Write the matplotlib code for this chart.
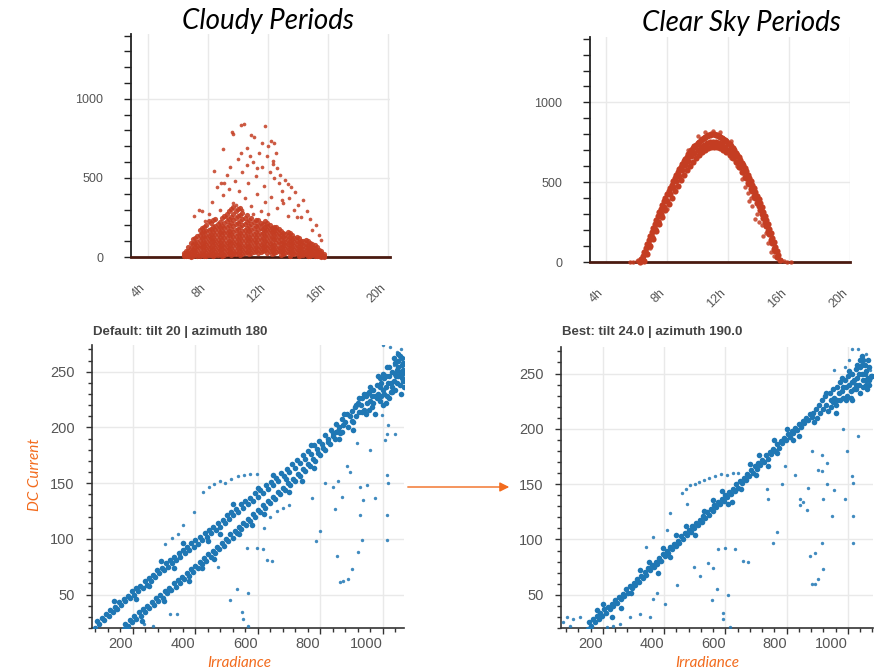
import matplotlib
matplotlib.use("Agg")
import matplotlib.pyplot as plt
from matplotlib.ticker import MultipleLocator
from matplotlib.patches import FancyArrowPatch

W, H = 884, 671
RED = "#c43d22"
BLUE = "#1f77b4"
ORANGE = "#f26b1d"
GRID = "#e9e9e9"
TICK_TXT = "#555555"
plt.rcParams["font.family"] = ["Liberation Sans", "DejaVu Sans"]

# ── Top row: AC power by hour of day ──────────────────────────────────────────
HOUR_TICKS = [4, 8, 12, 16, 20]
HOUR_LABELS = ["4h", "8h", "12h", "16h", "20h"]

# cloudy periods: dense low part, two sets of columns (hour, values)
CLOUDY_HOURS_A = [6.4, 6.7, 7.0, 7.3, 7.6, 7.9, 8.2, 8.5, 8.8, 9.1, 9.4, 9.7, 10.0,
                  10.3, 10.6, 10.9, 11.2, 11.5, 11.8, 12.1, 12.4, 12.7, 13.0, 13.3,
                  13.6, 13.9, 14.2, 14.5, 14.8, 15.1, 15.4, 15.7]
CLOUDY_VALS_A = [
    [4, 14, 28], [6, 22, 41, 66], [9, 31, 52, 84, 112], [5, 19, 47, 72, 98, 134],
    [12, 33, 61, 88, 117, 152, 183], [8, 26, 52, 77, 104, 131, 163, 205],
    [15, 38, 66, 92, 121, 147, 178, 212], [10, 31, 57, 83, 109, 141, 168, 197, 242],
    [19, 44, 72, 96, 127, 156, 188, 224], [13, 36, 61, 88, 118, 151, 182, 214, 262],
    [24, 51, 77, 104, 136, 167, 201, 238, 288], [16, 41, 67, 94, 127, 158, 196, 231, 272, 318],
    [28, 54, 82, 111, 143, 178, 216, 257, 302], [21, 46, 71, 99, 132, 164, 202, 238, 281],
    [34, 61, 88, 121, 152, 186, 224, 266], [26, 52, 79, 108, 141, 173, 209, 248],
    [38, 66, 94, 126, 158, 194, 232], [31, 56, 84, 116, 148, 182, 214],
    [44, 71, 99, 131, 162, 188, 226], [36, 62, 91, 118, 151, 176, 203],
    [26, 51, 79, 111, 138, 166, 191], [41, 64, 96, 124, 152, 174],
    [21, 46, 71, 98, 126, 149], [29, 56, 81, 106, 131, 158],
    [16, 39, 66, 91, 114, 141], [24, 49, 76, 99, 126], [11, 34, 56, 81, 104],
    [19, 41, 61, 84, 109], [9, 26, 46, 64, 88], [6, 19, 36, 54, 76],
    [4, 16, 29, 46], [3, 9, 21]]
CLOUDY_HOURS_B = [6.55, 6.85, 7.15, 7.45, 7.75, 8.05, 8.35, 8.65, 8.95, 9.25, 9.55,
                  9.85, 10.15, 10.45, 10.75, 11.05, 11.35, 11.65, 11.95, 12.25, 12.55,
                  12.85, 13.15, 13.45, 13.75, 14.05, 14.35, 14.65, 14.95, 15.25, 15.55]
CLOUDY_VALS_B = [
    [8, 20, 36], [3, 17, 34, 58, 88], [14, 38, 63, 91, 122],
    [9, 27, 54, 79, 106, 141, 171], [4, 21, 44, 69, 96, 124, 158, 192],
    [11, 34, 58, 84, 112, 139, 170, 226], [6, 24, 49, 74, 101, 129, 161, 188, 231],
    [14, 39, 64, 88, 116, 148, 176, 209], [7, 28, 53, 79, 107, 136, 166, 199, 246],
    [18, 43, 69, 96, 126, 157, 189, 226, 274], [11, 34, 59, 86, 114, 146, 178, 214, 256, 301],
    [22, 47, 74, 102, 134, 168, 206, 244, 288], [14, 38, 63, 91, 121, 154, 191, 228, 268, 312],
    [27, 53, 79, 108, 139, 171, 206, 244], [18, 44, 71, 99, 129, 162, 196, 234],
    [31, 58, 86, 116, 148, 181, 219], [24, 48, 76, 106, 138, 168, 201, 236],
    [36, 63, 91, 121, 154, 178, 206], [28, 54, 81, 109, 141, 169, 194, 218],
    [19, 43, 69, 98, 128, 158, 184], [33, 57, 86, 114, 144, 168, 188],
    [13, 36, 61, 88, 114, 138, 162], [24, 48, 73, 94, 119, 144],
    [9, 31, 57, 81, 103, 128, 152], [19, 44, 69, 93, 118], [6, 28, 48, 71, 94, 121],
    [14, 33, 53, 76, 99], [5, 18, 36, 56, 78, 101], [11, 27, 44, 63, 84],
    [4, 14, 27, 41, 61], [3, 11, 24, 38]]
# cloudy periods: sparse high readings (hour, power)
CLOUDY_PEAKS = [
    (10.2, 835), (10.4, 838), (11.8, 828), (9.6, 790), (9.7, 775), (10.9, 770),
    (11.1, 760), (12.2, 735), (12.4, 720), (12.0, 700), (10.6, 690), (9.0, 680),
    (11.4, 660), (10.2, 660), (11.9, 640), (12.5, 655), (10.8, 640), (10.0, 620),
    (11.0, 600), (12.3, 590), (12.6, 560), (11.6, 570), (9.5, 570), (8.4, 545),
    (12.1, 540), (10.3, 540), (9.3, 520), (11.2, 510), (12.8, 520), (13.1, 490),
    (9.8, 480), (8.9, 470), (10.7, 470), (12.4, 500), (13.3, 460), (13.5, 440),
    (11.7, 450), (8.6, 440), (9.4, 430), (10.1, 420), (12.9, 420), (13.8, 410),
    (11.3, 400), (9.0, 390), (12.2, 380), (10.5, 370), (13.4, 370), (14.3, 360),
    (8.3, 350), (11.8, 350), (9.7, 340), (13.0, 340), (14.0, 330), (10.9, 320),
    (12.6, 310), (7.4, 300), (7.6, 290), (8.8, 300), (9.9, 330), (11.5, 290),
    (13.7, 300), (14.6, 290), (7.1, 260), (8.1, 270), (10.3, 300), (12.0, 270),
    (13.3, 260), (14.2, 250), (14.8, 240), (9.2, 250), (11.0, 270), (7.8, 230),
    (15.2, 200), (15.4, 140), (15.5, 110), (12.3, 610), (11.6, 720), (12.7, 470),
    (10.6, 580), (9.1, 470), (13.9, 250), (14.9, 170), (11.3, 560), (12.9, 360)]

# clear sky periods: three close tracks of the daily arc (hour, power)
CLEAR_TRACK_A = [
    (6.2, 0), (6.3, 20), (6.4, 40), (6.5, 65), (6.6, 90), (6.7, 115), (6.8, 140),
    (6.9, 165), (7.0, 190), (7.1, 215), (7.2, 240), (7.3, 265), (7.4, 290),
    (7.5, 312), (7.6, 335), (7.7, 358), (7.8, 380), (7.9, 402), (8.0, 425),
    (8.1, 445), (8.2, 465), (8.3, 485), (8.4, 505), (8.5, 525), (8.6, 545),
    (8.7, 562), (8.8, 580), (8.9, 598), (9.0, 615), (9.1, 630), (9.2, 645),
    (9.3, 660), (9.4, 675), (9.5, 688), (9.6, 700), (9.7, 712), (9.8, 725),
    (9.9, 735), (10.0, 745), (10.1, 755), (10.2, 765), (10.3, 772), (10.4, 780),
    (10.5, 785), (10.6, 790), (10.7, 794), (10.8, 798), (10.9, 800), (11.0, 800),
    (11.1, 800), (11.2, 798), (11.3, 795), (11.4, 790), (11.5, 786), (11.6, 780),
    (11.7, 773), (11.8, 765), (11.9, 757), (12.0, 748), (12.1, 737), (12.2, 725),
    (12.3, 713), (12.4, 700), (12.5, 686), (12.6, 672), (12.7, 656), (12.8, 640),
    (12.9, 623), (13.0, 605), (13.1, 587), (13.2, 568), (13.3, 548), (13.4, 528),
    (13.5, 507), (13.6, 485), (13.7, 463), (13.8, 440), (13.9, 416), (14.0, 392),
    (14.1, 367), (14.2, 342), (14.3, 316), (14.4, 290), (14.5, 263), (14.6, 236),
    (14.7, 208), (14.8, 180), (14.9, 152), (15.0, 124), (15.1, 96), (15.2, 68),
    (15.3, 42), (15.4, 15)]
CLEAR_TRACK_B = [
    (6.4, 10), (6.6, 55), (6.8, 105), (7.0, 155), (7.2, 205), (7.4, 252), (7.6, 298),
    (7.8, 342), (8.0, 385), (8.2, 428), (8.4, 468), (8.6, 506), (8.8, 542),
    (9.0, 576), (9.2, 607), (9.4, 636), (9.6, 662), (9.8, 685), (10.0, 705),
    (10.2, 722), (10.4, 736), (10.6, 746), (10.8, 752), (11.0, 755), (11.2, 753),
    (11.4, 747), (11.6, 737), (11.8, 722), (12.0, 704), (12.2, 682), (12.4, 657),
    (12.6, 629), (12.8, 598), (13.0, 564), (13.2, 527), (13.4, 487), (13.6, 445),
    (13.8, 400), (14.0, 352), (14.2, 302), (14.4, 250), (14.6, 196), (14.8, 140),
    (15.0, 84), (15.2, 30)]
CLEAR_TRACK_C = [
    (6.5, 5), (6.7, 50), (6.9, 98), (7.1, 146), (7.3, 193), (7.5, 238), (7.7, 282),
    (7.9, 324), (8.1, 365), (8.3, 404), (8.5, 442), (8.7, 478), (8.9, 512),
    (9.1, 544), (9.3, 574), (9.5, 602), (9.7, 627), (9.9, 650), (10.1, 670),
    (10.3, 687), (10.5, 701), (10.7, 712), (10.9, 719), (11.1, 722), (11.3, 720),
    (11.5, 714), (11.7, 704), (11.9, 690), (12.1, 672), (12.3, 650), (12.5, 625),
    (12.7, 597), (12.9, 566), (13.1, 532), (13.3, 496), (13.5, 457), (13.7, 416),
    (13.9, 372), (14.1, 326), (14.3, 278), (14.5, 228), (14.7, 176), (14.9, 122),
    (15.1, 66)]
CLEAR_EXTRA = [
    (13.3, 430), (13.5, 400), (13.9, 300), (13.8, 270), (14.2, 230), (14.5, 180),
    (13.1, 470), (12.9, 520), (13.6, 350), (14.0, 250), (14.6, 120), (14.3, 160),
    (12.6, 600), (12.2, 650), (13.4, 380), (14.8, 60), (15.0, 40), (10.5, 815),
    (11.0, 822), (11.5, 812), (10.0, 790), (12.2, 760), (9.4, 705), (7.0, 150),
    (7.5, 260), (8.0, 330), (6.9, 90), (7.3, 200), (5.6, 2), (5.8, 3), (6.0, 8),
    (6.1, 15), (15.5, 10), (15.7, 6), (15.9, 3), (16.1, 1)]

# ── Bottom row: DC current vs irradiance (irradiance, current) ───────────────
DEFAULT_UPPER = [
    (78, 20), (85, 26), (92, 24), (100, 29), (108, 27), (115, 33), (122, 31), (128, 36),
    (135, 34), (142, 39), (150, 37), (156, 43), (163, 41), (170, 46), (176, 44),
    (183, 49), (190, 47), (197, 53), (204, 50), (210, 56), (217, 53), (224, 58),
    (231, 56), (238, 62), (244, 59), (251, 65), (258, 62), (264, 68), (271, 66),
    (278, 72), (285, 69), (292, 74), (298, 72), (305, 78), (312, 75), (318, 81),
    (325, 78), (332, 84), (339, 81), (346, 87), (352, 84), (359, 90), (366, 87),
    (372, 93), (380, 90), (387, 96), (394, 93), (400, 99), (408, 95), (415, 102),
    (422, 99), (430, 105), (437, 102), (444, 108), (451, 105), (458, 111), (466, 108),
    (472, 114), (480, 111), (487, 117), (494, 114), (501, 121), (508, 118), (515, 124),
    (522, 121), (530, 127), (537, 124), (545, 131), (552, 128), (560, 134), (568, 131),
    (576, 137), (584, 134), (592, 141), (600, 138), (608, 144), (616, 141), (625, 148),
    (633, 145), (641, 151), (650, 148), (658, 155), (666, 152), (675, 159), (683, 156),
    (692, 163), (700, 160), (709, 167), (718, 164), (726, 171), (735, 168), (744, 175),
    (752, 172), (761, 179), (770, 176), (779, 184), (788, 181), (797, 188), (806, 185),
    (815, 193), (824, 190), (833, 198), (842, 195), (851, 203), (860, 200), (870, 208),
    (140, 44), (210, 46), (290, 80), (360, 96), (440, 98), (520, 131), (600, 146),
    (690, 154), (770, 184), (850, 196), (250, 58), (480, 104), (650, 157), (330, 74)]
DEFAULT_LOWER = [
    (170, 19), (176, 24), (183, 22), (190, 27), (197, 25), (204, 31), (211, 28),
    (218, 34), (225, 31), (232, 37), (239, 34), (246, 40), (253, 38), (260, 43),
    (267, 41), (274, 47), (281, 44), (288, 50), (295, 47), (302, 53), (309, 51),
    (316, 56), (323, 54), (330, 60), (337, 57), (344, 63), (351, 60), (358, 66),
    (365, 64), (372, 69), (379, 67), (386, 73), (393, 70), (400, 76), (407, 74),
    (414, 79), (421, 77), (428, 83), (435, 80), (442, 86), (449, 84), (456, 89),
    (463, 87), (470, 93), (477, 91), (484, 96), (491, 94), (498, 100), (505, 98),
    (512, 104), (519, 101), (526, 107), (533, 105), (540, 111), (547, 109), (554, 114),
    (561, 112), (568, 118), (576, 116), (584, 122), (592, 120), (600, 126), (608, 124),
    (616, 130), (624, 128), (632, 134), (640, 132), (648, 138), (656, 136), (664, 142),
    (672, 140), (680, 146), (688, 144), (696, 150), (704, 148), (712, 154), (720, 152),
    (728, 158), (736, 156), (744, 163), (752, 161), (760, 167), (768, 165), (776, 172),
    (784, 170), (792, 177), (800, 175), (808, 182), (816, 180), (824, 187), (832, 185),
    (840, 192), (848, 190), (856, 197), (864, 195), (872, 202),
    (230, 26), (300, 44), (380, 62), (460, 82), (540, 104), (620, 122), (700, 142),
    (780, 164), (860, 190), (420, 74), (580, 112), (740, 152)]
DEFAULT_TOP = [
    (880, 205), (885, 212), (890, 200), (895, 210), (900, 215), (905, 205), (910, 218),
    (915, 210), (920, 222), (925, 214), (930, 220), (935, 226), (940, 216), (945, 228),
    (950, 222), (955, 232), (960, 224), (965, 218), (970, 234), (975, 228), (980, 238),
    (985, 230), (990, 224), (995, 240), (1000, 234), (1005, 244), (1010, 236),
    (1015, 228), (1020, 246), (1025, 240), (1030, 250), (1035, 242), (1040, 234),
    (1045, 252), (1050, 246), (1055, 238), (1060, 256), (1063, 248), (1066, 242),
    (1048, 260), (1055, 264), (1040, 258), (1030, 232), (1020, 226), (1010, 222),
    (1000, 248), (990, 244), (975, 212), (1058, 230), (1065, 252), (870, 196),
    (875, 212), (905, 198), (945, 212), (1035, 262), (1050, 266), (1012, 254),
    (985, 246), (960, 236), (925, 226), (1028, 236), (1068, 236), (995, 228),
    (940, 230), (1018, 240), (1042, 246), (1000, 220), (1010, 246), (1020, 254),
    (1040, 248), (1050, 254), (1060, 244), (1066, 258), (970, 222), (980, 226),
    (990, 236), (950, 230), (935, 214), (915, 220), (900, 206), (1055, 250),
    (1045, 240), (1025, 232), (1005, 230), (965, 228), (955, 216), (1062, 262),
    (1068, 250)]
DEFAULT_SPARSE_TOP = [(1002, 274), (1023, 272), (1044, 268), (1058, 270), (1036, 256)]
DEFAULT_STRAY = [
    (426, 142), (445, 147), (460, 149), (478, 152), (495, 150), (515, 154), (535, 156),
    (555, 157), (575, 158), (597, 158), (394, 124), (325, 101), (304, 95), (360, 112),
    (345, 104), (773, 137), (799, 107), (786, 98), (815, 150), (842, 147), (869, 138),
    (848, 127), (858, 152), (885, 165), (895, 160), (917, 186), (959, 180), (927, 147),
    (938, 135), (975, 137), (949, 148), (927, 121), (933, 99), (922, 88), (855, 85),
    (901, 73), (890, 64), (874, 62), (864, 61), (1013, 157), (1018, 150), (1015, 121),
    (1013, 99), (1008, 189), (1013, 194), (1039, 194), (1018, 202), (997, 211),
    (533, 55), (511, 45), (570, 51), (549, 34), (552, 28), (570, 22), (597, 92),
    (618, 91), (629, 81), (645, 80), (565, 92), (474, 75), (265, 22), (236, 24),
    (319, 33), (341, 33), (700, 130), (680, 128), (660, 125), (640, 120), (620, 110)]

BEST_BAND = [
    (150, 19), (156, 25), (162, 22), (168, 28), (174, 25), (180, 31), (186, 28),
    (192, 34), (198, 31), (204, 37), (210, 34), (216, 39), (222, 37), (228, 42),
    (234, 40), (240, 45), (246, 43), (252, 48), (258, 46), (264, 51), (270, 49),
    (276, 55), (282, 52), (288, 58), (294, 56), (300, 61), (306, 59), (312, 64),
    (318, 62), (324, 67), (330, 65), (336, 71), (342, 68), (348, 74), (354, 72),
    (360, 77), (366, 75), (372, 80), (378, 78), (384, 83), (390, 81), (396, 87),
    (402, 85), (408, 90), (414, 88), (420, 93), (426, 91), (432, 96), (438, 94),
    (444, 99), (450, 97), (456, 103), (462, 100), (468, 106), (474, 104), (480, 109),
    (486, 107), (492, 112), (498, 110), (504, 115), (510, 113), (516, 118), (522, 116),
    (528, 121), (534, 119), (540, 125), (546, 122), (552, 128), (558, 126), (564, 131),
    (570, 129), (576, 134), (582, 132), (588, 137), (594, 135), (600, 140), (606, 138),
    (612, 143), (618, 141), (624, 146), (630, 144), (636, 150), (642, 147), (648, 153),
    (654, 151), (660, 156), (666, 154), (672, 159), (678, 157), (684, 163), (690, 160),
    (696, 166), (702, 164), (708, 169), (714, 167), (720, 172), (726, 170), (732, 176),
    (738, 173), (744, 179), (750, 177), (756, 182), (762, 180), (768, 186), (774, 183),
    (780, 189), (786, 187), (792, 192), (798, 190), (804, 195), (810, 193), (816, 198),
    (822, 196), (828, 201), (834, 199), (840, 204), (846, 202), (852, 207), (858, 205),
    (864, 210), (870, 208), (876, 213), (882, 211),
    (200, 42), (260, 38), (320, 72), (380, 70), (440, 104), (500, 104), (560, 136),
    (620, 134), (680, 168), (740, 166), (800, 200), (840, 194), (420, 84), (350, 80),
    (290, 52), (530, 126), (590, 144), (650, 146), (710, 176), (770, 178), (230, 30),
    (180, 36), (470, 112), (610, 132), (700, 158), (760, 190), (820, 190), (395, 92)]
BEST_TOP = [
    (885, 214), (890, 206), (895, 218), (900, 210), (905, 222), (910, 214), (915, 226),
    (920, 218), (925, 230), (930, 222), (935, 216), (940, 232), (945, 226), (950, 236),
    (955, 228), (960, 222), (965, 238), (970, 232), (975, 242), (980, 234), (985, 228),
    (990, 244), (995, 238), (1000, 248), (1005, 240), (1010, 234), (1015, 250),
    (1020, 244), (1025, 254), (1030, 246), (1035, 240), (1040, 256), (1045, 250),
    (1050, 244), (1055, 258), (1060, 252), (1065, 246), (1070, 256), (1075, 248),
    (1050, 262), (1040, 262), (1045, 266), (1030, 258), (1020, 236), (1010, 228),
    (998, 230), (1062, 236), (1068, 240), (975, 226), (960, 214), (1080, 248),
    (1058, 244), (1028, 240), (985, 238), (945, 220), (1048, 238), (1005, 252),
    (1015, 242), (1025, 236), (1035, 250), (1045, 258), (1055, 250), (1065, 262),
    (1070, 244), (995, 226), (980, 246), (965, 226), (950, 224), (930, 232),
    (1012, 226), (1038, 232), (1060, 240)]
BEST_SPARSE_TOP = [(1013, 272), (1034, 272), (953, 253), (991, 256), (1003, 262),
                   (1073, 253), (1076, 246), (1060, 268)]
BEST_STRAY = [
    (457, 142), (470, 146), (485, 149), (500, 150), (515, 152), (530, 154), (548, 156),
    (565, 157), (585, 159), (605, 158), (625, 160), (642, 160), (740, 137), (735, 146),
    (784, 150), (795, 166), (827, 158), (844, 137), (855, 134), (866, 127), (844, 131),
    (871, 147), (882, 180), (915, 176), (904, 163), (915, 162), (931, 169), (918, 137),
    (931, 150), (953, 145), (947, 121), (991, 137), (1018, 121), (1018, 97), (1013, 157),
    (1018, 151), (768, 107), (755, 97), (876, 85), (893, 88), (915, 97), (918, 73),
    (904, 64), (893, 60), (882, 60), (996, 180), (1034, 194), (985, 200), (577, 91),
    (598, 92), (631, 91), (656, 81), (674, 80), (544, 79), (517, 67), (560, 74),
    (499, 75), (441, 59), (571, 55), (556, 45), (609, 50), (593, 34), (593, 28),
    (614, 21), (403, 42), (375, 52), (364, 46), (321, 33), (353, 30), (288, 30),
    (255, 24), (234, 22), (212, 21), (81, 30), (103, 28), (125, 30), (92, 22),
    (70, 25), (364, 102), (408, 109), (342, 93), (419, 124), (474, 132)]


def unpack(points):
    return [p[0] for p in points], [p[1] for p in points]


def columns(hours, vals):
    xs, ys = [], []
    for h, col in zip(hours, vals):
        xs += [h] * len(col)
        ys += col
    return xs, ys


fig = plt.figure(figsize=(W / 100, H / 100), dpi=100)


def px_axes(left, top, right, bottom):
    return fig.add_axes([left / W, 1 - bottom / H, (right - left) / W, (bottom - top) / H])


def style_hour_axes(ax, xlim):
    ax.set_xlim(*xlim)
    ax.set_ylim(0, 1410)
    ax.set_xticks(HOUR_TICKS)
    ax.set_xticklabels(HOUR_LABELS, rotation=45, ha="right", va="top")
    ax.set_yticks([0, 500, 1000])
    ax.yaxis.set_minor_locator(MultipleLocator(100))
    ax.tick_params(axis="x", length=0, pad=18, labelsize=9, labelcolor=TICK_TXT)
    ax.tick_params(axis="y", which="both", length=5, width=1.0, color="#222222",
                   pad=15, labelsize=9, labelcolor=TICK_TXT)
    for s in ["top", "right"]:
        ax.spines[s].set_visible(False)
    ax.spines["left"].set_color("#222222")
    ax.spines["left"].set_linewidth(1.3)
    ax.spines["bottom"].set_color("#4a1a10")
    ax.spines["bottom"].set_linewidth(2.0)
    ax.grid(True, color=GRID, linewidth=1.0)
    ax.set_axisbelow(True)


def style_iv_axes(ax, xlim):
    ax.set_xlim(*xlim)
    ax.set_ylim(20, 274)
    ax.set_xticks([200, 400, 600, 800, 1000])
    ax.set_xticklabels(["200", "400", "600", "800", "1000"], ha="right")
    ax.xaxis.set_minor_locator(MultipleLocator(40))
    ax.set_yticks([50, 100, 150, 200, 250])
    ax.yaxis.set_minor_locator(MultipleLocator(10))
    ax.tick_params(which="major", length=4.5, width=1.0, color="#333333",
                   labelsize=10.5, labelcolor=TICK_TXT)
    ax.tick_params(which="minor", length=3, width=1.0, color="#333333")
    ax.tick_params(axis="y", pad=8)
    ax.tick_params(axis="x", pad=2)
    for s in ["top", "right"]:
        ax.spines[s].set_visible(False)
    for s in ["left", "bottom"]:
        ax.spines[s].set_color("#333333")
        ax.spines[s].set_linewidth(1.2)
    ax.grid(True, color=GRID, linewidth=1.0)
    ax.set_axisbelow(True)


# ── Top left: cloudy ──────────────────────────────────────────────────────────
ax1 = px_axes(131, 34, 390, 257)
style_hour_axes(ax1, (2.87, 20.13))
for xs, ys in [columns(CLOUDY_HOURS_A, CLOUDY_VALS_A),
               columns(CLOUDY_HOURS_B, CLOUDY_VALS_B)]:
    ax1.scatter(xs, ys, s=14, color=RED, alpha=0.9, linewidths=0, clip_on=False, zorder=3)
xs, ys = unpack(CLOUDY_PEAKS)
ax1.scatter(xs, ys, s=7, color=RED, alpha=0.85, linewidths=0, clip_on=False, zorder=3)

# ── Top right: clear sky ──────────────────────────────────────────────────────
ax2 = px_axes(590, 37, 850, 262)
style_hour_axes(ax2, (2.95, 20.0))
for pts in [CLEAR_TRACK_A, CLEAR_TRACK_B, CLEAR_TRACK_C]:
    xs, ys = unpack(pts)
    ax2.scatter(xs, ys, s=20, color=RED, alpha=1.0, linewidths=0, clip_on=False, zorder=3)
xs, ys = unpack(CLEAR_EXTRA)
ax2.scatter(xs, ys, s=10, color=RED, alpha=0.85, linewidths=0, clip_on=False, zorder=3)

# ── Bottom left: default orientation ──────────────────────────────────────────
ax3 = px_axes(92, 345, 404, 628)
style_iv_axes(ax3, (69, 1068))
for pts in [DEFAULT_UPPER, DEFAULT_LOWER, DEFAULT_TOP]:
    xs, ys = unpack(pts)
    ax3.scatter(xs, ys, s=16, color=BLUE, alpha=1.0, linewidths=0, zorder=3)
for pts in [DEFAULT_SPARSE_TOP, DEFAULT_STRAY]:
    xs, ys = unpack(pts)
    ax3.scatter(xs, ys, s=6, color=BLUE, alpha=0.85, linewidths=0, zorder=3)

# ── Bottom right: best orientation ────────────────────────────────────────────
ax4 = px_axes(561, 347, 873, 628)
style_iv_axes(ax4, (63, 1082))
for pts in [BEST_BAND, BEST_TOP]:
    xs, ys = unpack(pts)
    ax4.scatter(xs, ys, s=16, color=BLUE, alpha=1.0, linewidths=0, zorder=3)
for pts in [BEST_SPARSE_TOP, BEST_STRAY]:
    xs, ys = unpack(pts)
    ax4.scatter(xs, ys, s=6, color=BLUE, alpha=0.85, linewidths=0, zorder=3)

# ── Texts ─────────────────────────────────────────────────────────────────────
title_font = dict(family=["Lato", "DejaVu Sans"], style="italic", fontsize=20, color="black")
fig.text(268 / W, 1 - 21 / H, "Cloudy Periods", ha="center", va="center", **title_font)
fig.text(741 / W, 1 - 23 / H, "Clear Sky Periods", ha="center", va="center", **title_font)

sub_font = dict(fontsize=9.5, fontweight="bold", color="#444444", ha="left", va="center")
fig.text(93 / W, 1 - 332 / H, "Default: tilt 20 | azimuth 180", **sub_font)
fig.text(562 / W, 1 - 332 / H, "Best: tilt 24.0 | azimuth 190.0", **sub_font)

lab_font = dict(family=["Lato", "DejaVu Sans"], style="italic", fontsize=11, color=ORANGE)
fig.text(35 / W, 1 - 475 / H, "DC Current", rotation=90, ha="center", va="center", **lab_font)
fig.text(239 / W, 1 - 663 / H, "Irradiance", ha="center", va="center", **lab_font)
fig.text(707 / W, 1 - 663 / H, "Irradiance", ha="center", va="center", **lab_font)

arrow = FancyArrowPatch((405 / W, 1 - 487 / H), (512 / W, 1 - 487 / H),
                        transform=fig.transFigure, arrowstyle="-|>",
                        mutation_scale=14, color=ORANGE, linewidth=1.0)
fig.add_artist(arrow)

fig.savefig("out.png", dpi=100)
